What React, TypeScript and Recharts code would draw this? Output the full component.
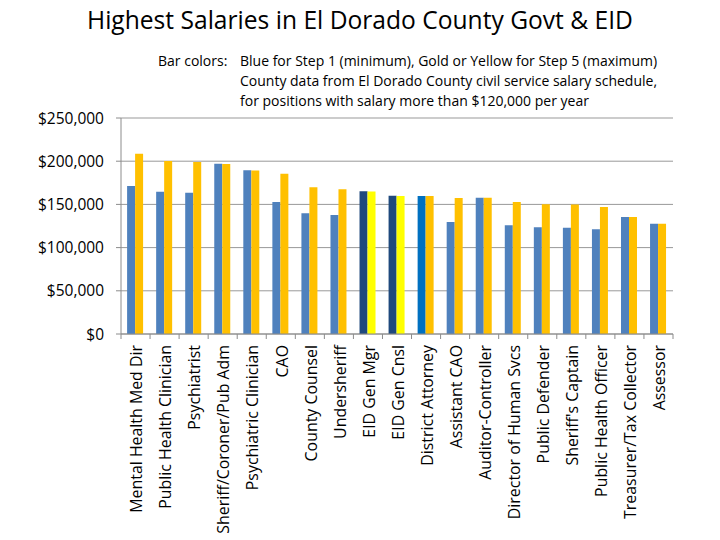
import { BarChart, Bar, XAxis, YAxis, CartesianGrid, Cell } from 'recharts';

const positions = [
  'Mental Health Med Dir',
  'Public Health Clinician',
  'Psychiatrist',
  'Sheriff/Coroner/Pub Adm',
  'Psychiatric Clinician',
  'CAO',
  'County Counsel',
  'Undersheriff',
  'EID Gen Mgr',
  'EID Gen Cnsl',
  'District Attorney',
  'Assistant CAO',
  'Auditor-Controller',
  'Director of Human Svcs',
  'Public Defender',
  "Sheriff's Captain",
  'Public Health Officer',
  'Treasurer/Tax Collector',
  'Assessor',
];

const step1 = [
  171300, 164700, 163600, 197100, 189400, 152800, 139700, 137700, 165100, 160100,
  159700, 129600, 157800, 125800, 123500, 123100, 121100, 135400, 127700,
];

const step5 = [
  208700, 200200, 199000, 196800, 189200, 185600, 169800, 167400, 165000, 159800,
  159700, 157400, 157800, 152800, 150100, 150000, 147000, 135400, 127700,
];

const yTicks = [0, 50000, 100000, 150000, 200000, 250000];

const FONT = '"Open Sans", sans-serif';
const PLOT_W = 552;
const BAND = PLOT_W / positions.length;

function step1Color(name: string) {
  if (name.startsWith('EID')) return '#1F497D';
  if (name === 'District Attorney') return '#0070C0';
  return '#4F81BD';
}

function step5Color(name: string) {
  if (name.startsWith('EID')) return '#FFFF00';
  return '#FFC000';
}

const data = positions.map((name, i) => ({ name, step1: step1[i], step5: step5[i] }));

function CategoryTick(props: any) {
  const { x, y, payload, index } = props;
  const half = BAND / 2;
  return (
    <g transform={`translate(${x},${y})`}>
      <line x1={-half} x2={-half} y1={0} y2={5} stroke="#8c8c8c" />
      {index === positions.length - 1 && (
        <line x1={half} x2={half} y1={0} y2={5} stroke="#8c8c8c" />
      )}
      <text
        transform="rotate(-90)"
        x={-11}
        y={1}
        dy="0.36em"
        textAnchor="end"
        fontSize={15.9}
        fontFamily={FONT}
        fill="#000"
      >
        {payload.value}
      </text>
    </g>
  );
}

export default function App() {
  return (
    <div style={{ position: 'fixed', left: 0, top: 0, width: 720, height: 540, background: '#fff', fontFamily: FONT }}>
      <div
        style={{
          position: 'absolute',
          top: 3,
          left: 0,
          width: 720,
          textAlign: 'center',
          fontSize: 24.6,
          color: '#000',
        }}
      >
        Highest Salaries in El Dorado County Govt &amp; EID
      </div>
      <div style={{ position: 'absolute', top: 51, left: 158, fontSize: 14, lineHeight: '20px', color: '#000' }}>
        Bar colors:
      </div>
      <div style={{ position: 'absolute', top: 51, left: 240, fontSize: 14, lineHeight: '20px', color: '#000', whiteSpace: 'nowrap' }}>
        <div>Blue for Step 1 (minimum), Gold or Yellow for Step 5 (maximum)</div>
        <div>County data from El Dorado County civil service salary schedule,</div>
        <div>for positions with salary more than $120,000 per year</div>
      </div>
      <BarChart
        width={720}
        height={540}
        data={data}
        margin={{ top: 118, right: 47, bottom: 6, left: 0 }}
        barCategoryGap="21%"
        barGap={0}
        style={{ position: 'absolute', left: 0, top: 0 }}
      >
        <CartesianGrid vertical={false} stroke="#999" />
        <XAxis
          dataKey="name"
          interval={0}
          height={200}
          tickLine={false}
          tickSize={0}
          tickMargin={0}
          axisLine={{ stroke: '#8c8c8c' }}
          tick={<CategoryTick />}
        />
        <YAxis
          width={121}
          domain={[0, 250000]}
          ticks={yTicks}
          tickFormatter={(v: number) => `$${v.toLocaleString('en-US')}`}
          tick={{ fontSize: 15.5, fontFamily: FONT, fill: '#000' }}
          tickSize={5}
          tickMargin={12}
          tickLine={{ stroke: '#8c8c8c' }}
          axisLine={{ stroke: '#8c8c8c' }}
        />
        <Bar dataKey="step1" isAnimationActive={false}>
          {data.map((d, i) => (
            <Cell key={i} fill={step1Color(d.name)} />
          ))}
        </Bar>
        <Bar dataKey="step5" isAnimationActive={false}>
          {data.map((d, i) => (
            <Cell key={i} fill={step5Color(d.name)} />
          ))}
        </Bar>
      </BarChart>
    </div>
  );
}
